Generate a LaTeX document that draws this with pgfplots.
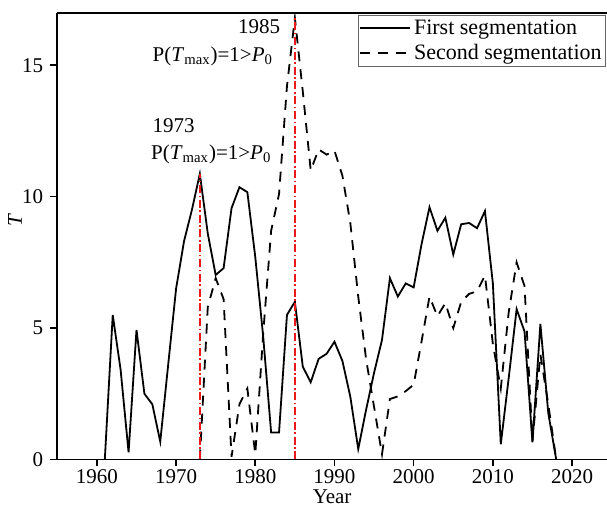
\documentclass[border=0pt]{standalone}
\usepackage{fontspec}
\setmainfont{Liberation Serif}
\usepackage{pgfplots}
\pgfplotsset{compat=1.18}
\definecolor{markred}{RGB}{235,25,25}

\pgfplotstableread{
year T
1961 0
1962 5.5
1963 3.4
1964 0.27
1965 4.93
1966 2.5
1967 2.1
1968 0.68
1969 3.6
1970 6.5
1971 8.3
1972 9.5
1973 10.87
1974 8.6
1975 7.02
1976 7.28
1977 9.56
1978 10.36
1979 10.17
1980 7.7
1981 4.67
1982 1.03
1983 1.03
1984 5.5
1985 6.0
1986 3.53
1987 2.94
1988 3.83
1989 4.02
1990 4.48
1991 3.75
1992 2.39
1993 0.4
1994 1.9
1995 3.3
1996 4.55
1997 6.9
1998 6.2
1999 6.7
2000 6.55
2001 8.2
2002 9.6
2003 8.7
2004 9.2
2005 7.8
2006 8.95
2007 9.0
2008 8.8
2009 9.45
2010 6.7
2011 0.58
2012 3.1
2013 5.72
2014 4.87
2015 0.65
2016 5.16
2017 1.76
2018 0
}\firstseg

\pgfplotstableread{
year T
1973 0
1974 5.8
1975 6.9
1976 6.1
1977 0.1
1978 2.1
1979 2.7
1980 0.2
1981 4.8
1982 8.7
1983 10.1
1984 14.2
1985 16.8
1986 14.0
1987 11.0
1988 11.8
1989 11.6
1990 11.75
1991 10.8
1992 9.0
1993 6.2
1994 3.8
1995 2.0
1996 0.2
1997 2.3
1998 2.4
1999 2.6
2000 2.85
2001 4.5
2002 6.2
2003 5.45
2004 5.95
2005 5.0
2006 6.0
2007 6.3
2008 6.4
2009 7.0
2010 4.4
2011 2.7
2012 5.6
2013 7.5
2014 6.6
2015 0.7
2016 4.0
2017 2.1
2018 0
}\secondseg

\begin{document}
\begin{tikzpicture}
\begin{axis}[
  scale only axis,
  width=274.8pt, height=223.4pt,
  xmin=1955, xmax=2024.4,
  ymin=0, ymax=17,
  axis x line=box, axis y line=left,
  y axis line style={-},
  axis line style={line width=0.9pt},
  tick align=outside,
  tick pos=bottom,
  ytick pos=left,
  major tick length=3.5pt,
  every tick/.style={black, line width=0.8pt},
  xtick={1960,1970,...,2020},
  ytick={0,5,10,15},
  /pgf/number format/1000 sep={},
  /pgf/number format/assume math mode=true,
  tick label style={font=\fontsize{10.5}{12}\selectfont},
  xticklabel style={yshift=2pt},
  label style={font=\fontsize{10.5}{12}\selectfont},
  xlabel={Year},
  ylabel={\textit{T}},
  xlabel style={at={(axis description cs:0.5,0)}, anchor=base, yshift=-22pt},
  ylabel style={at={(axis description cs:-0.077,0.535)}, anchor=center},
  legend style={at={(1,1)}, anchor=north east, xshift=-0.4pt, yshift=-1.2pt,
    draw=black!60, line width=0.5pt, inner sep=0.5pt,
    font=\fontsize{11}{13}\selectfont, row sep=0.5pt,
    nodes={inner sep=1.5pt}},
  legend cell align=left,
  legend image code/.code={\draw[#1] (0pt,0pt) -- (25pt,0pt);},
]
\addplot[black, line width=0.9pt, sharp plot] table[x=year, y=T] {\firstseg};
\addlegendentry{First segmentation}
\addplot[black, line width=0.9pt, dash pattern=on 5pt off 4pt, sharp plot] table[x=year, y=T] {\secondseg};
\addlegendentry{Second segmentation}
\addplot[markred, line width=0.9pt, dash pattern=on 4pt off 1.3pt on 0.8pt off 1.3pt, forget plot]
  coordinates {(1973,0) (1973,10.87)};
\addplot[markred, line width=0.9pt, dash pattern=on 4pt off 1.3pt on 0.8pt off 1.3pt, forget plot]
  coordinates {(1985,0) (1985,16.8)};
\node[anchor=east, inner sep=0pt, font=\fontsize{10.5}{12}\selectfont] at (axis cs:1983.2,16.46) {1985};
\node[anchor=west, inner sep=0pt, font=\fontsize{10.5}{12}\selectfont] at (axis cs:1967.0,15.35)
  {P(\textit{T}\textsubscript{max})=1>\textit{P}\textsubscript{0}};
\node[anchor=west, inner sep=0pt, font=\fontsize{10.5}{12}\selectfont] at (axis cs:1967.0,12.71) {1973};
\node[anchor=west, inner sep=0pt, font=\fontsize{10.5}{12}\selectfont] at (axis cs:1966.8,11.62)
  {P(\textit{T}\textsubscript{max})=1>\textit{P}\textsubscript{0}};
\end{axis}
\pgfresetboundingbox
\path[use as bounding box] (-28.65pt,-23.75pt) rectangle (274.85pt,229.75pt);
\end{tikzpicture}
\end{document}
